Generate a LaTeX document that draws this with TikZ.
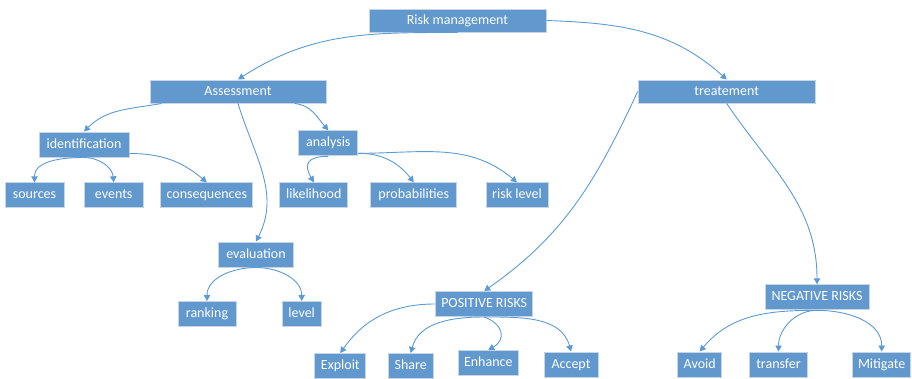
\documentclass[tikz,border=0pt]{standalone}
\usepackage{fontspec}
\setmainfont{Carlito}
\usetikzlibrary{arrows.meta}
\definecolor{boxblue}{RGB}{97,152,205}
\definecolor{boxline}{RGB}{200,212,226}
\definecolor{linkblue}{RGB}{91,155,213}
\begin{document}
\begin{tikzpicture}[x=1pt,y=1pt]
\tikzstyle{every node}+=[inner sep=0pt]
\tikzstyle{box}=[draw=boxline, line width=1pt, fill=boxblue, text=white, minimum height=25pt, text height=9.6pt, text depth=2.6pt, font=\fontsize{14}{16}\selectfont]
\tikzstyle{link}=[draw=linkblue, line width=0.9pt, -{Triangle[length=6pt,width=6.5pt]}]
\useasboundingbox (0,0) rectangle (912,-378);
\node [box, minimum width=177pt, minimum height=23pt] (rm) at (457.5,-20.5) {Risk management};
\node [box, minimum width=176pt, minimum height=23pt] (assess) at (238,-91.5) {Assessment};
\node [box, minimum width=177pt, minimum height=23pt] (treat) at (726.7,-91.5) {treatement};
\node [box, minimum width=90pt] (ident) at (84,-144.5) {identification};
\node [box, minimum width=59pt] (analysis) at (328.3,-143.3) {analysis};
\node [box, minimum width=59pt] (sources) at (34.5,-195.3) {sources};
\node [box, minimum width=59pt] (events) at (113.7,-195.3) {events};
\node [box, minimum width=92pt] (conseq) at (206.8,-195.3) {consequences};
\node [box, minimum width=68pt] (likeli) at (313.8,-195.3) {likelihood};
\node [box, minimum width=86pt] (probab) at (413.8,-195.3) {probabilities};
\node [box, minimum width=62pt] (risklvl) at (517,-195.3) {risk level};
\node [box, minimum width=75pt] (evalu) at (256,-254.5) {evaluation};
\node [box, minimum width=58pt] (ranking) at (207,-314) {ranking};
\node [box, minimum width=39pt] (level) at (301.7,-314) {level};
\node [box, minimum width=97.5pt] (posrisk) at (484.2,-304) {POSITIVE RISKS};
\node [box, minimum width=104pt] (negrisk) at (817,-297.3) {NEGATIVE RISKS};
\node [box, minimum width=51pt] (exploit) at (340.3,-366) {Exploit};
\node [box, minimum width=45pt] (share) at (410.7,-366) {Share};
\node [box, minimum width=60pt] (enhance) at (488.3,-363) {Enhance};
\node [box, minimum width=54pt] (accept) at (571,-364.5) {Accept};
\node [box, minimum width=44pt] (avoid) at (699.7,-364.5) {Avoid};
\node [box, minimum width=58pt] (transfer) at (778.5,-364.5) {transfer};
\node [box, minimum width=58pt] (mitigate) at (881.7,-364.5) {Mitigate};
\draw [link] (rm.south) to[out=180,in=33] (assess.north);
\draw [link] (rm.east) to[out=-2,in=138] (treat.north);
\draw [link] ([xshift=12pt]assess.south west) to[out=190,in=45] (ident.north);
\draw [link] ([xshift=-32pt]assess.south east) to[out=-5,in=131] (analysis.north);
\draw [link] (assess.south) to[out=-73,in=63] (evalu.north);
\draw [link] (ident.south) to[out=180,in=90] (sources.north);
\draw [link] (ident.south) to[out=0,in=95] (events.north);
\draw [link] ([yshift=4pt]ident.south east) to[out=0,in=140] (conseq.north);
\draw [link] (analysis.south) to[out=180,in=120,looseness=1.8] (likeli.north);
\draw [link] ([yshift=3pt]analysis.south east) to[out=0,in=128] (probab.north);
\draw [link] ([yshift=3pt]analysis.south east) to[out=0,in=140] (risklvl.north);
\draw [link] (evalu.south) to[out=180,in=90] (ranking.north);
\draw [link] (evalu.south) to[out=0,in=90] (level.north);
\draw [link] (treat.west) to[out=-115,in=35] (posrisk.north);
\draw [link] (treat.south) to[out=-56,in=90] (negrisk.north);
\draw [link] (posrisk.west) to[out=180,in=55] (exploit.north);
\draw [link] (posrisk.south) to[out=180,in=75] (share.north);
\draw [link] (posrisk.south) to[out=-20,in=30,looseness=1.6] (enhance.north);
\draw [link] (posrisk.south) to[out=0,in=105] (accept.north);
\draw [link] (negrisk.south) to[out=180,in=50] (avoid.north);
\draw [link] (negrisk.south) to[out=180,in=90] (transfer.north);
\draw [link] (negrisk.south) to[out=0,in=90] (mitigate.north);
\end{tikzpicture}
\end{document}
